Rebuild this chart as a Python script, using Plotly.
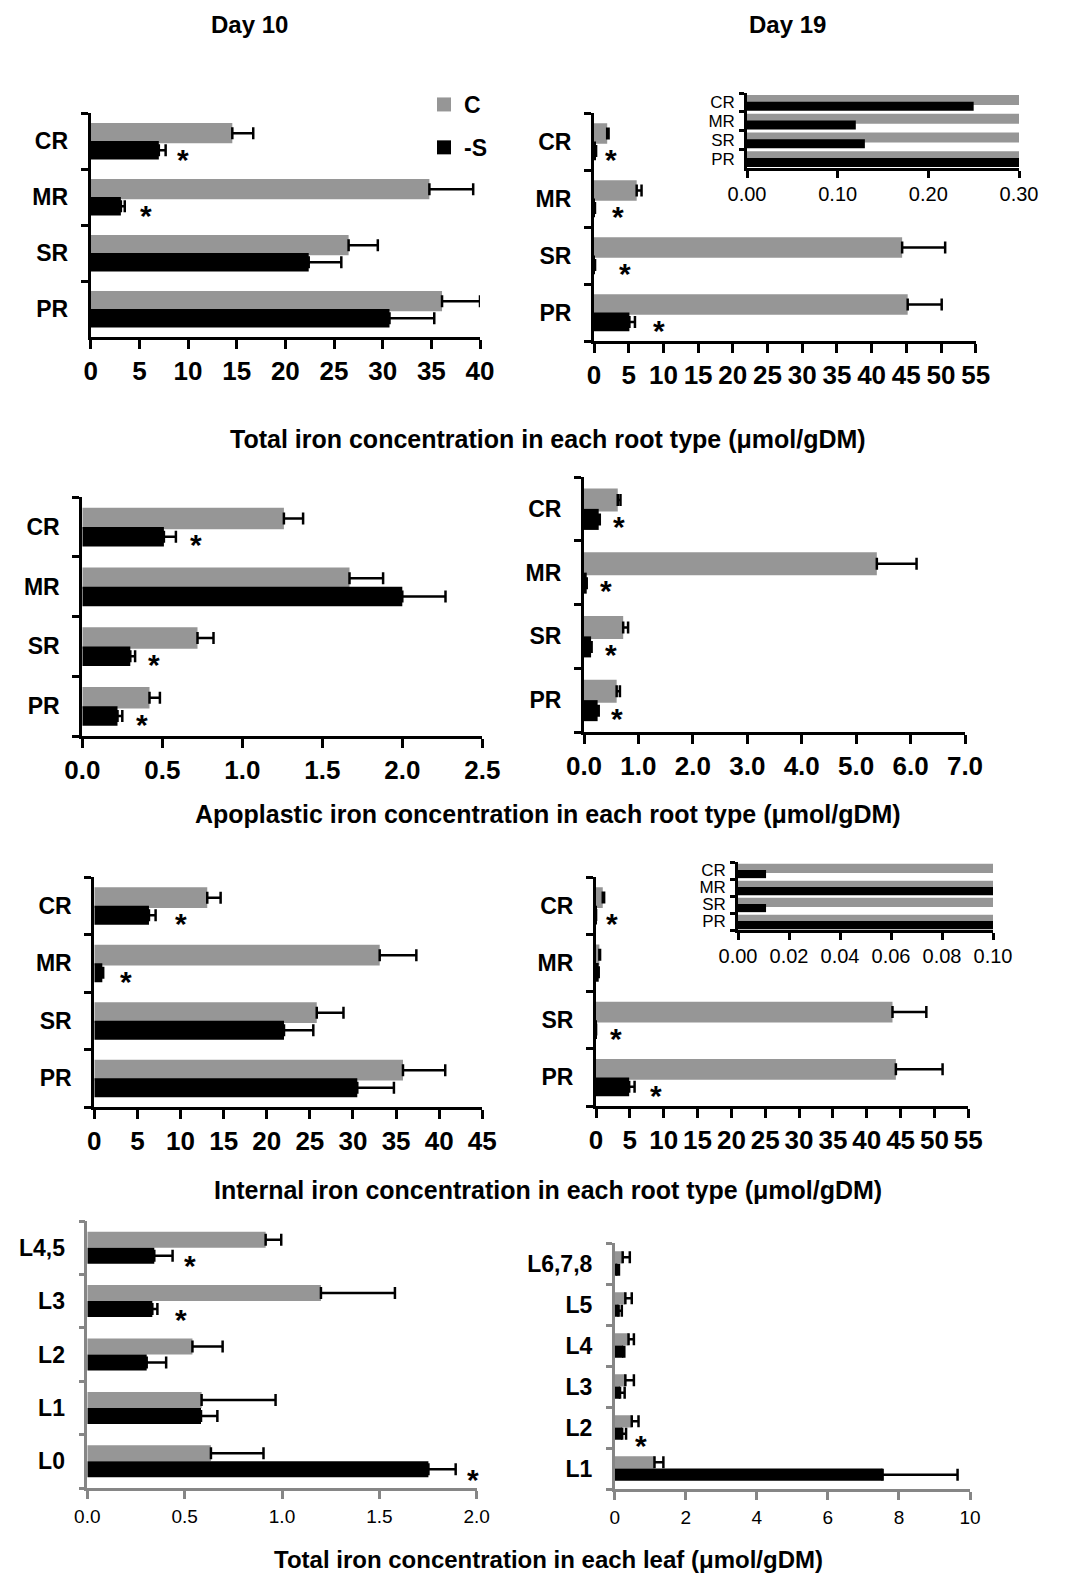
import plotly.graph_objects as go

W, H = 1067, 1576
GREY = "#969696"
BLACK = "#000000"
LEAF_AXIS = "#868686"
FONT = "Liberation Sans, Arial, sans-serif"

# ---------------- data ----------------
root_types = ["CR", "MR", "SR", "PR"]
leaves_d10 = ["L4,5", "L3", "L2", "L1", "L0"]
leaves_d19 = ["L6,7,8", "L5", "L4", "L3", "L2", "L1"]

# Total iron, day 10
total_d10_c = [14.55, 34.8, 26.5, 36.1]
total_d10_c_err = [2.15, 4.5, 3.0, 3.9]
total_d10_s = [7.0, 3.1, 22.4, 30.7]
total_d10_s_err = [0.7, 0.4, 3.35, 4.6]
total_d10_star = [9.5, 5.65, None, None]

# Total iron, day 19
total_d19_c = [1.9, 6.15, 44.4, 45.2]
total_d19_c_err = [0.2, 0.7, 6.2, 4.9]
total_d19_s = [0.25, 0.12, 0.13, 5.1]
total_d19_s_err = [0.05, 0.02, 0.02, 0.8]
total_d19_star = [2.45, 3.5, 4.4, 9.4]

# Apoplastic iron, day 10
apo_d10_c = [1.26, 1.67, 0.72, 0.42]
apo_d10_c_err = [0.12, 0.21, 0.1, 0.065]
apo_d10_s = [0.51, 2.0, 0.3, 0.22]
apo_d10_s_err = [0.075, 0.27, 0.03, 0.03]
apo_d10_star = [0.71, None, 0.45, 0.37]

# Apoplastic iron, day 19
apo_d19_c = [0.62, 5.38, 0.72, 0.6]
apo_d19_c_err = [0.05, 0.73, 0.09, 0.06]
apo_d19_s = [0.27, 0.05, 0.13, 0.25]
apo_d19_s_err = [0.02, 0.0, 0.01, 0.02]
apo_d19_star = [0.64, 0.4, 0.5, 0.6]

# Internal iron, day 10
int_d10_c = [13.1, 33.1, 25.8, 35.8]
int_d10_c_err = [1.55, 4.25, 3.1, 4.9]
int_d10_s = [6.34, 0.93, 22.0, 30.5]
int_d10_s_err = [0.77, 0.1, 3.4, 4.25]
int_d10_star = [10.0, 3.7, None, None]

# Internal iron, day 19
int_d19_c = [1.0, 0.5, 43.8, 44.3]
int_d19_c_err = [0.2, 0.1, 5.0, 6.9]
int_d19_s = [0.011, 0.4, 0.011, 4.9]
int_d19_s_err = [0.0, 0.0, 0.0, 0.8]
int_d19_star = [2.4, None, 2.9, 8.9]

# Total iron in leaves, day 10
leaf_d10_c = [0.916, 1.2, 0.54, 0.587, 0.635]
leaf_d10_c_err = [0.08, 0.38, 0.155, 0.38, 0.27]
leaf_d10_s = [0.344, 0.334, 0.305, 0.584, 1.752]
leaf_d10_s_err = [0.094, 0.026, 0.1, 0.084, 0.14]
leaf_d10_star = [0.53, 0.48, None, None, 1.98]

# Total iron in leaves, day 19
leaf_d19_c = [0.225, 0.3, 0.39, 0.3, 0.48, 1.12]
leaf_d19_c_err = [0.2, 0.18, 0.15, 0.24, 0.19, 0.25]
leaf_d19_s = [0.075, 0.11, 0.24, 0.15, 0.21, 7.54]
leaf_d19_s_err = [0.045, 0.09, 0.03, 0.13, 0.11, 2.11]
leaf_d19_star = [None, None, None, None, 0.73, 10.1]

series_names = ["C", "-S"]
titles_day = ["Day 10", "Day 19"]
row_titles = [
    "Total iron concentration in each root type (μmol/gDM)",
    "Apoplastic iron concentration in each root type (μmol/gDM)",
    "Internal iron concentration in each root type (μmol/gDM)",
    "Total iron concentration in each leaf (μmol/gDM)",
]

# ---------------- layout helpers ----------------
def dom(x0, x1, y0, y1):
    return [x0 / W, x1 / W], [1 - y1 / H, 1 - y0 / H]

panels = [
    dict(cats=root_types, c=total_d10_c, ce=total_d10_c_err, s=total_d10_s, se=total_d10_s_err,
         star=total_d10_star, rng=[0, 40], dtick=5, fmt="d", box=(90.7, 480, 113, 337), style="root"),
    dict(cats=root_types, c=total_d19_c, ce=total_d19_c_err, s=total_d19_s, se=total_d19_s_err,
         star=total_d19_star, rng=[0, 55], dtick=5, fmt="d", box=(594, 975.7, 113, 341), style="root"),
    dict(cats=root_types, c=total_d19_c, ce=None, s=total_d19_s, se=None,
         star=None, rng=[0, 0.30], dtick=0.1, fmt=".2f", box=(747, 1019, 93, 168), style="inset"),
    dict(cats=root_types, c=apo_d10_c, ce=apo_d10_c_err, s=apo_d10_s, se=apo_d10_s_err,
         star=apo_d10_star, rng=[0, 2.5], dtick=0.5, fmt=".1f", box=(82.3, 482.3, 497, 736), style="root"),
    dict(cats=root_types, c=apo_d19_c, ce=apo_d19_c_err, s=apo_d19_s, se=apo_d19_s_err,
         star=apo_d19_star, rng=[0, 7], dtick=1, fmt=".1f", box=(584, 965, 477, 732), style="root"),
    dict(cats=root_types, c=int_d10_c, ce=int_d10_c_err, s=int_d10_s, se=int_d10_s_err,
         star=int_d10_star, rng=[0, 45], dtick=5, fmt="d", box=(94.3, 482.3, 877, 1107), style="root"),
    dict(cats=root_types, c=int_d19_c, ce=int_d19_c_err, s=int_d19_s, se=int_d19_s_err,
         star=int_d19_star, rng=[0, 55], dtick=5, fmt="d", box=(596, 968.3, 877, 1106), style="root"),
    dict(cats=root_types, c=int_d19_c, ce=None, s=int_d19_s, se=None,
         star=None, rng=[0, 0.10], dtick=0.02, fmt=".2f", box=(738, 993, 862, 930), style="inset"),
    dict(cats=leaves_d10, c=leaf_d10_c, ce=leaf_d10_c_err, s=leaf_d10_s, se=leaf_d10_s_err,
         star=leaf_d10_star, rng=[0, 2.0], dtick=0.5, fmt=".1f", box=(87.3, 476.7, 1221, 1488), style="leaf"),
    dict(cats=leaves_d19, c=leaf_d19_c, ce=leaf_d19_c_err, s=leaf_d19_s, se=leaf_d19_s_err,
         star=leaf_d19_star, rng=[0, 10], dtick=2, fmt="d", box=(614.7, 970, 1243, 1489), style="leaf"),
]

bar_geom = {
    "root": dict(c_off=-0.04, c_w=0.36, s_off=-0.33, s_w=0.33),
    "inset": dict(c_off=-0.14, c_w=0.53, s_off=-0.45, s_w=0.48),
    "leaf": dict(c_off=0.0, c_w=0.30, s_off=-0.30, s_w=0.30),
}

fig = go.Figure()
layout = {}
annotations = []


def err(e):
    if e is None:
        return None
    return dict(type="data", array=e, arrayminus=[0] * len(e), symmetric=False,
                color="black", thickness=2.5, width=6)


for i, p in enumerate(panels):
    k = "" if i == 0 else str(i + 1)
    xa, ya = "x" + k, "y" + k
    g = bar_geom[p["style"]]
    n = len(p["cats"])

    fig.add_trace(go.Bar(
        y=p["cats"], x=p["c"], orientation="h", name=series_names[0],
        marker=dict(color=GREY, line=dict(width=0)), offset=g["c_off"], width=g["c_w"],
        error_x=err(p["ce"]), xaxis=xa, yaxis=ya, showlegend=False,
    ))
    fig.add_trace(go.Bar(
        y=p["cats"], x=p["s"], orientation="h", name=series_names[1],
        marker=dict(color=BLACK, line=dict(width=0)), offset=g["s_off"], width=g["s_w"],
        error_x=err(p["se"]), xaxis=xa, yaxis=ya, showlegend=False,
    ))

    dx, dy = dom(*p["box"])
    style = p["style"]
    if style == "root":
        acol, lw, tl = BLACK, 3, 9
        xfont = dict(family=FONT, size=26, color="black", weight="bold")
        yfont = dict(family=FONT, size=23, color="black", weight="bold")
        ystand, xstand = 15, 0
    elif style == "inset":
        acol, lw, tl = BLACK, 2.5, 7
        xfont = dict(family=FONT, size=20, color="black")
        yfont = dict(family=FONT, size=17, color="black")
        ystand, xstand = 6, -1
    else:
        acol, lw, tl = LEAF_AXIS, 2.5, 8
        xfont = dict(family=FONT, size=19, color="black")
        yfont = dict(family=FONT, size=23, color="black", weight="bold")
        ystand, xstand = 15, 1

    layout["xaxis" + k] = dict(
        domain=dx, anchor=ya, range=p["rng"], dtick=p["dtick"], tick0=0, tickformat=p["fmt"],
        tickmode="linear", automargin=False,
        showgrid=False, zeroline=False, showline=True, linecolor=acol, linewidth=lw,
        ticks="outside", ticklen=tl, tickwidth=lw, tickcolor=acol, tickfont=xfont,
        ticklabelstandoff=xstand, fixedrange=True,
    )
    layout["yaxis" + k] = dict(
        domain=dy, anchor=xa, type="category", categoryorder="array",
        categoryarray=list(reversed(p["cats"])), range=[-0.5, n - 0.5],
        tickmode="linear", tick0=0, dtick=1, automargin=False,
        showgrid=False, zeroline=False, showline=True, linecolor=acol, linewidth=lw,
        ticks="outside", ticklen=tl - 2, tickwidth=lw, tickcolor=acol, tickson="boundaries",
        tickfont=yfont, ticklabelstandoff=ystand, fixedrange=True,
    )

    if p["star"]:
        for cat, sx in zip(p["cats"], p["star"]):
            if sx is None:
                continue
            annotations.append(dict(
                x=sx, y=cat, xref=xa, yref=ya, text="*", showarrow=False,
                font=dict(family=FONT, size=30, color="black", weight="bold"),
                xanchor="center", yanchor="middle", yshift=-18,
            ))

# Legend entries (legend-only traces)
for name, col in zip(series_names, [GREY, BLACK]):
    fig.add_trace(go.Scatter(
        x=[None], y=[None], mode="markers", name=name,
        marker=dict(symbol="square", size=14, color=col),
        xaxis="x", yaxis="y", showlegend=True, legendgroup=name,
    ))

# Day titles
for t, cx in zip(titles_day, [249, 787]):
    annotations.append(dict(
        x=cx / W, y=1 - 24 / H, xref="paper", yref="paper", text=t, showarrow=False,
        font=dict(family=FONT, size=24, color="black", weight="bold"),
        xanchor="center", yanchor="middle",
    ))
# Row titles
for t, cy, fs in zip(row_titles, [439, 814, 1190, 1559], [25, 25, 25, 24]):
    annotations.append(dict(
        x=548 / W, y=1 - cy / H, xref="paper", yref="paper", text=t, showarrow=False,
        font=dict(family=FONT, size=fs, color="black", weight="bold"),
        xanchor="center", yanchor="middle",
    ))

fig.update_layout(
    template="none",
    width=W, height=H, margin=dict(l=0, r=0, t=0, b=0, autoexpand=False),
    paper_bgcolor="white", plot_bgcolor="rgba(0,0,0,0)",
    barmode="overlay", showlegend=True,
    legend=dict(x=424 / W, y=1 - 83 / H, xanchor="left", yanchor="top",
                font=dict(family=FONT, size=23, color="black", weight="bold"),
                tracegroupgap=10, bgcolor="rgba(0,0,0,0)", traceorder="grouped",
                itemclick=False, itemdoubleclick=False),
    annotations=annotations,
    **layout,
)

fig.write_html("out.html", config={"displayModeBar": False})
